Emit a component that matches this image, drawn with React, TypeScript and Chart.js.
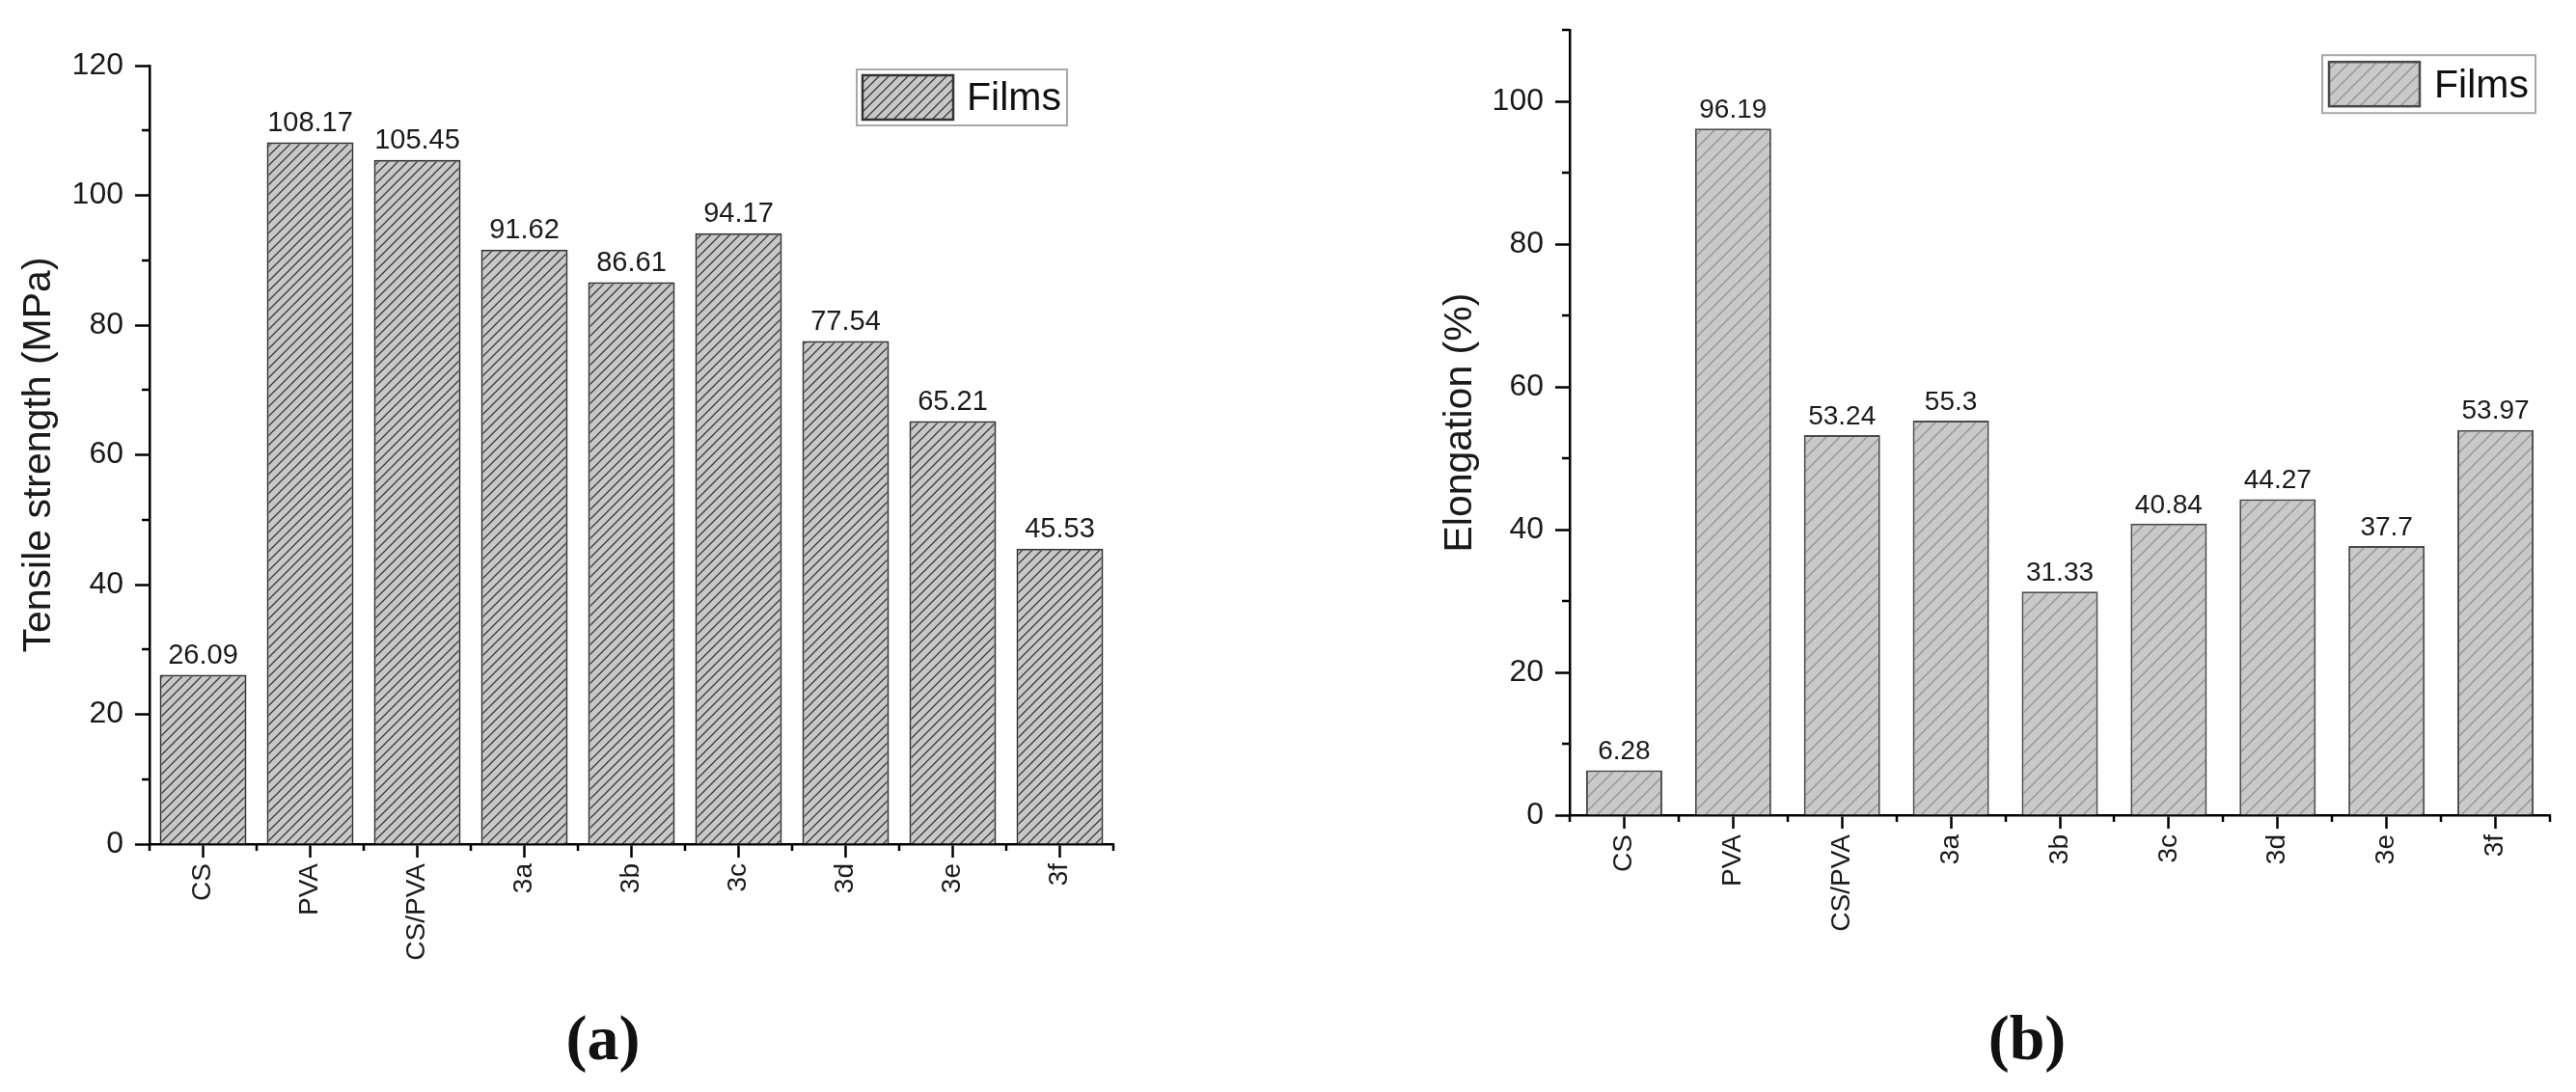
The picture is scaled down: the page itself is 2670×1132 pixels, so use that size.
import { useEffect, useRef } from "react"
import { Chart, registerables } from "chart.js"

Chart.register(...registerables)

// Data
const films = ["CS", "PVA", "CS/PVA", "3a", "3b", "3c", "3d", "3e", "3f"]
const tensileStrength = [26.09, 108.17, 105.45, 91.62, 86.61, 94.17, 77.54, 65.21, 45.53]
const elongation = [6.28, 96.19, 53.24, 55.3, 31.33, 40.84, 44.27, 37.7, 53.97]
const seriesName = "Films"

const SANS = "'Liberation Sans', Arial, Helvetica, sans-serif"
const SERIF = "'Liberation Serif', 'Times New Roman', serif"

function hatchPattern(bg: string, line: string, gap: number, width: number) {
  const tile = document.createElement("canvas")
  tile.width = gap
  tile.height = gap
  const g = tile.getContext("2d")!
  g.fillStyle = bg
  g.fillRect(0, 0, gap, gap)
  g.strokeStyle = line
  g.lineWidth = width
  g.beginPath()
  g.moveTo(0, gap)
  g.lineTo(gap, 0)
  g.moveTo(-gap / 2, gap / 2)
  g.lineTo(gap / 2, -gap / 2)
  g.moveTo(gap / 2, gap * 1.5)
  g.lineTo(gap * 1.5, gap / 2)
  g.stroke()
  return g.createPattern(tile, "repeat")!
}

// small ticks between the labelled ones, placed with the chart's own scales
const minorTicks = {
  id: "minorTicks",
  afterDraw(chart: any, _args: any, opts: any) {
    const { ctx, chartArea } = chart
    const x = chart.scales.x
    const y = chart.scales.y
    ctx.save()
    ctx.strokeStyle = "#000"
    ctx.lineWidth = 2.5
    ctx.beginPath()
    for (let v = opts.yStep; v <= y.max + 0.001; v += opts.yStep * 2) {
      const py = Math.round(y.getPixelForValue(v))
      ctx.moveTo(chartArea.left, py)
      ctx.lineTo(chartArea.left - 8, py)
    }
    const n = chart.data.labels.length
    const half = (x.getPixelForValue(1) - x.getPixelForValue(0)) / 2
    for (let i = 0; i <= n; i++) {
      const px = Math.round(i < n ? x.getPixelForValue(i) - half : x.getPixelForValue(n - 1) + half)
      ctx.moveTo(px, chartArea.bottom)
      ctx.lineTo(px, chartArea.bottom + 7)
    }
    ctx.stroke()
    ctx.restore()
  },
}

const valueLabels = {
  id: "valueLabels",
  afterDatasetsDraw(chart: any, _args: any, opts: any) {
    const { ctx } = chart
    const data = chart.data.datasets[0].data
    ctx.save()
    ctx.font = `${opts.size}px ${SANS}`
    ctx.fillStyle = "#1a1a1a"
    ctx.textAlign = "center"
    ctx.textBaseline = "bottom"
    chart.getDatasetMeta(0).data.forEach((bar: any, i: number) => {
      ctx.fillText(String(data[i]), bar.x, bar.y - 5)
    })
    ctx.restore()
  },
}

const boxLegend = {
  id: "boxLegend",
  afterDraw(chart: any, _args: any, opts: any) {
    const { ctx, chartArea } = chart
    const ds = chart.data.datasets[0]
    const left = chartArea.right - opts.right - opts.width
    const top = chartArea.top + opts.top
    ctx.save()
    ctx.fillStyle = "#fff"
    ctx.fillRect(left, top, opts.width, opts.height)
    ctx.strokeStyle = "#a8a8a8"
    ctx.lineWidth = 2
    ctx.strokeRect(left, top, opts.width, opts.height)
    const sx = left + opts.inset
    const sy = top + opts.inset
    const sh = opts.height - opts.inset * 2
    ctx.fillStyle = ds.backgroundColor
    ctx.fillRect(sx, sy, 94, sh)
    ctx.strokeStyle = ds.borderColor
    ctx.lineWidth = 2.5
    ctx.strokeRect(sx, sy, 94, sh)
    ctx.fillStyle = "#111"
    ctx.font = `41px ${SANS}`
    ctx.textAlign = "left"
    ctx.textBaseline = "middle"
    ctx.fillText(ds.label, left + opts.textOffset, top + opts.height / 2 + 2)
    ctx.restore()
  },
}

type PanelProps = {
  values: number[]
  yTitle: string
  yMax: number
  canvasLeft: number
  canvasWidth: number
  canvasHeight: number
  yAxisWidth: number
  padTop: number
  padRight: number
  titlePad: number
  barPercentage: number
  pattern: [string, string, number, number]
  border: string
  labelSize: number
  legend: { right: number; top: number; width: number; height: number; inset: number; textOffset: number }
}

function BarPanel(p: PanelProps) {
  const chartRef = useRef<HTMLCanvasElement>(null)
  const chartInstance = useRef<Chart | null>(null)

  useEffect(() => {
    if (!chartRef.current) return
    if (chartInstance.current) chartInstance.current.destroy()

    const fill = hatchPattern(...p.pattern)
    const ctx = chartRef.current.getContext("2d")
    if (!ctx) return

    chartInstance.current = new Chart(ctx, {
      type: "bar",
      data: {
        labels: films,
        datasets: [
          {
            label: seriesName,
            data: p.values,
            backgroundColor: fill as any,
            borderColor: p.border,
            borderWidth: 2,
            categoryPercentage: 1,
            barPercentage: p.barPercentage,
          },
        ],
      },
      plugins: [minorTicks, valueLabels, boxLegend] as any,
      options: {
        responsive: false,
        animation: false,
        devicePixelRatio: 1,
        layout: { padding: { top: p.padTop, right: p.padRight, left: 0, bottom: 0 } },
        plugins: {
          legend: { display: false },
          tooltip: { enabled: false },
          minorTicks: { yStep: 10 },
          valueLabels: { size: p.labelSize },
          boxLegend: p.legend,
        } as any,
        scales: {
          x: {
            afterFit: (s: any) => {
              s.height = 150
            },
            border: { display: true, color: "#000", width: 2.5 },
            grid: { offset: false, drawOnChartArea: false, drawTicks: true, tickLength: 14, tickWidth: 2.5, tickColor: "#000" },
            ticks: {
              autoSkip: false,
              minRotation: 90,
              maxRotation: 90,
              padding: 6,
              color: "#1a1a1a",
              font: { family: SANS, size: 28 },
            },
          },
          y: {
            min: 0,
            max: p.yMax,
            afterFit: (s: any) => {
              s.width = p.yAxisWidth
            },
            border: { display: true, color: "#000", width: 2.5 },
            grid: { drawOnChartArea: false, drawTicks: true, tickLength: 15, tickWidth: 2.5, tickColor: "#000" },
            ticks: {
              stepSize: 20,
              includeBounds: false,
              padding: 12,
              color: "#1a1a1a",
              font: { family: SANS, size: 32 },
            },
            title: {
              display: true,
              text: p.yTitle,
              color: "#1a1a1a",
              font: { family: SANS, size: 41 },
              padding: { top: p.titlePad, bottom: 0 },
            },
          },
        },
      },
    })

    return () => {
      if (chartInstance.current) {
        chartInstance.current.destroy()
        chartInstance.current = null
      }
    }
  }, [])

  return (
    <canvas
      ref={chartRef}
      width={p.canvasWidth}
      height={p.canvasHeight}
      style={{ position: "absolute", left: p.canvasLeft, top: 0, width: p.canvasWidth, height: p.canvasHeight }}
    />
  )
}

const panelLabel: React.CSSProperties = {
  position: "absolute",
  top: 1038,
  width: 200,
  textAlign: "center",
  fontFamily: SERIF,
  fontWeight: "bold",
  fontSize: 66,
  lineHeight: "76px",
  color: "#111",
}

export default function App() {
  return (
    <div style={{ position: "absolute", left: 0, top: 0, width: 2670, height: 1132, background: "#fff", overflow: "hidden" }}>
      <BarPanel
        values={tensileStrength}
        yTitle="Tensile strength (MPa)"
        yMax={120}
        canvasLeft={0}
        canvasWidth={1300}
        canvasHeight={1025}
        yAxisWidth={155}
        padTop={68}
        padRight={146}
        titlePad={16}
        barPercentage={0.81}
        pattern={["#c8c8c8", "#3a3a3a", 10, 1.3]}
        border="#333"
        labelSize={29}
        legend={{ right: 48, top: 4, width: 218, height: 58, inset: 6, textOffset: 114 }}
      />
      <BarPanel
        values={elongation}
        yTitle="Elongation (%)"
        yMax={110}
        canvasLeft={1380}
        canvasWidth={1290}
        canvasHeight={995}
        yAxisWidth={247}
        padTop={28}
        padRight={27}
        titlePad={109}
        barPercentage={0.7}
        pattern={["#c9c9c9", "#979797", 14, 1.5]}
        border="#4a4a4a"
        labelSize={28}
        legend={{ right: 15, top: 26, width: 221, height: 60, inset: 7, textOffset: 116 }}
      />
      <div style={{ ...panelLabel, left: 525 }}>(a)</div>
      <div style={{ ...panelLabel, left: 2001 }}>(b)</div>
    </div>
  )
}
